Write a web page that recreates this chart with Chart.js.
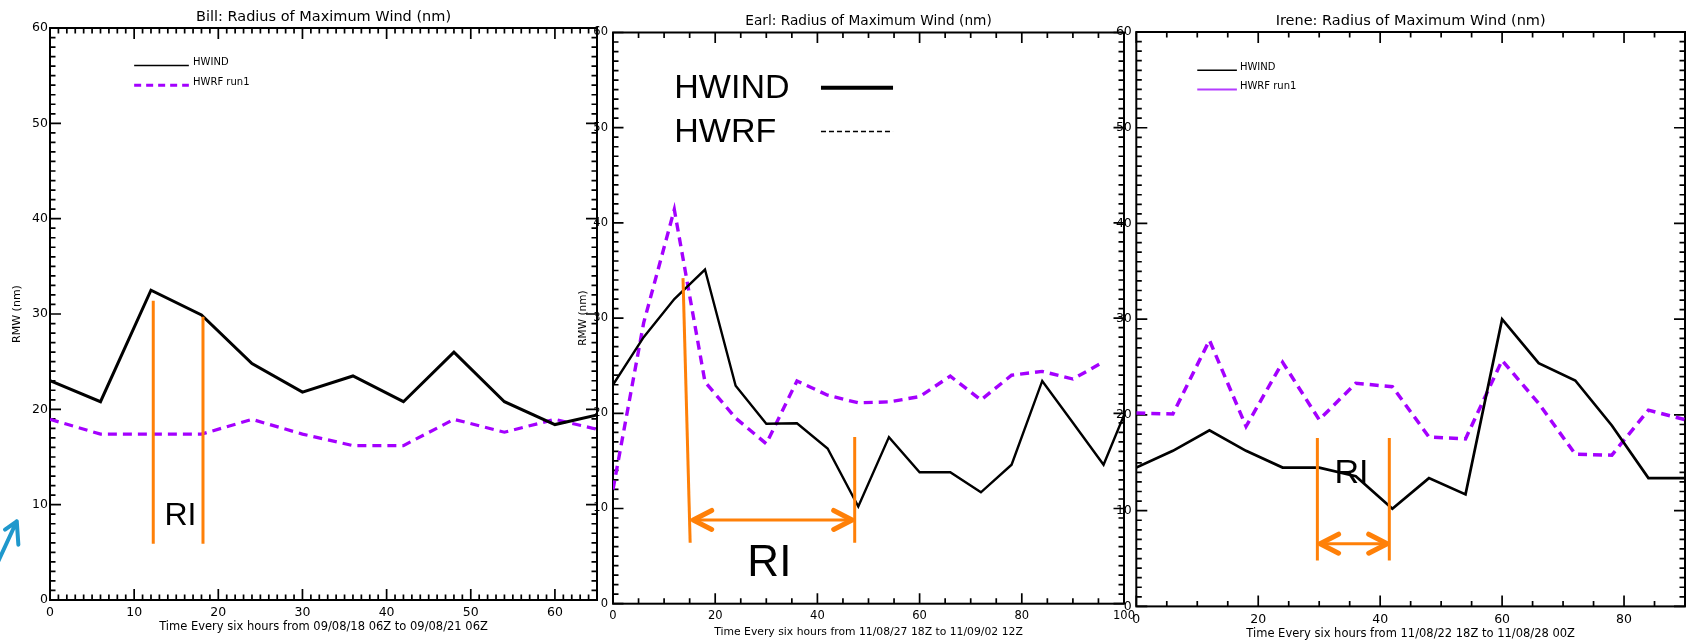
<!DOCTYPE html>
<html>
<head>
<meta charset="utf-8">
<script src="https://cdn.jsdelivr.net/npm/chart.js@4.4.1/dist/chart.umd.min.js"></script>
<style>
  html, body { margin: 0; padding: 0; background: #fff; }
  #wrap { position: relative; width: 1688px; height: 643px; overflow: hidden; background: #fff; }
  #wrap canvas { position: absolute; left: 0; top: 0; }
</style>
</head>
<body>
<div id="wrap">
  <canvas id="bill" width="1688" height="643"></canvas>
  <canvas id="earl" width="1688" height="643"></canvas>
  <canvas id="irene" width="1688" height="643"></canvas>
</div>
<script>
// ---- data (RMW in nm, every six hours) ----
const billHours = [0, 6, 12, 18, 24, 30, 36, 42, 48, 54, 60, 66];
const billHwind = [23.0, 20.8, 32.5, 29.9, 24.8, 21.8, 23.5, 20.8, 26.0, 20.8, 18.4, 19.6];
const billHwrf  = [18.95, 17.4, 17.4, 17.4, 18.95, 17.4, 16.2, 16.2, 18.95, 17.6, 18.95, 17.7];

const earlHours = [0, 6, 12, 18, 24, 30, 36, 42, 48, 54, 60, 66, 72, 78, 84, 90, 96, 102];
const earlHwind = [23.0, 28.0, 32.0, 35.1, 22.9, 18.9, 18.95, 16.3, 10.2, 17.5, 13.8, 13.8, 11.7, 14.6, 23.4, 19.0, 14.6, 22.4];
const earlHwrf  = [12.0, 29.5, 41.4, 23.3, 19.5, 16.8, 23.4, 21.9, 21.1, 21.2, 21.75, 23.9, 21.4, 24.0, 24.4, 23.6, 25.4];

const ireneHours = [0, 6, 12, 18, 24, 30, 36, 42, 48, 54, 60, 66, 72, 78, 84, 90];
const ireneHwind = [14.5, 16.25, 18.4, 16.25, 14.5, 14.5, 13.6, 10.2, 13.4, 11.7, 30.0, 25.4, 23.6, 18.9, 13.4, 13.4];
const ireneHwrf  = [20.2, 20.1, 27.8, 18.8, 25.5, 19.5, 23.3, 22.95, 17.7, 17.5, 25.7, 21.2, 15.9, 15.8, 20.5, 19.5];

// tick labels
const yTickLabels = [0, 10, 20, 30, 40, 50, 60];
const billXTicks  = [0, 10, 20, 30, 40, 50, 60];
const earlXTicks  = [0, 20, 40, 60, 80, 100];
const ireneXTicks = [0, 20, 40, 60, 80];

// RI markers [x0, y0, x1, y1] and arrows [xFrom, xTo, y]
const billRiLines  = [[12.27, 31.4, 12.27, 5.9], [18.18, 29.7, 18.18, 5.9]];
const earlRiLines  = [[13.7, 34.2, 15.1, 6.4], [47.3, 17.5, 47.3, 6.4]];
const earlRiArrow  = [15.4, 47.1, 8.8];
const ireneRiLines = [[29.7, 17.6, 29.7, 4.8], [41.5, 17.6, 41.5, 4.8]];
const ireneRiArrow = [29.9, 41.4, 6.55];
const billRiText   = [15.5, 8.9];
const earlRiText   = [30.6, 4.33];
const ireneRiText  = [35.3, 14.04];

const BLACK = '#000';
const PURPLE = '#a400ff';
const ORANGE = '#ff8008';
const Y_BOX = 40;   // width reserved for the y tick labels
const X_BOX = 35;   // height reserved for the x tick labels

function pts(xs, ys) {
  return ys.map((v, i) => ({ x: xs[i], y: v }));
}

function segment(s, width) {
  return {
    data: [{ x: s[0], y: s[1] }, { x: s[2], y: s[3] }],
    borderColor: ORANGE, borderWidth: width, pointRadius: 0, borderCapStyle: 'butt',
  };
}

const panelPlugin = {
  id: 'panel',
  beforeDatasetsDraw(chart, args, o) {
    const { ctx, chartArea: a, scales: { x, y } } = chart;
    ctx.save();
    ctx.strokeStyle = BLACK;
    ctx.lineWidth = 2;
    ctx.strokeRect(a.left, a.top, a.right - a.left, a.bottom - a.top);
    ctx.lineWidth = 1.7;
    ctx.beginPath();
    for (let v = x.min; v <= x.max + 1e-6; v += o.xMinor) {
      const p = x.getPixelForValue(v);
      const len = Math.abs(v / o.xMajor - Math.round(v / o.xMajor)) < 1e-6 ? o.major : o.minor;
      ctx.moveTo(p, a.bottom); ctx.lineTo(p, a.bottom - len);
      ctx.moveTo(p, a.top); ctx.lineTo(p, a.top + len);
    }
    for (let v = y.min; v <= y.max + 1e-6; v += 1) {
      const p = y.getPixelForValue(v);
      const len = v % 10 === 0 ? o.major : o.minor;
      ctx.moveTo(a.left, p); ctx.lineTo(a.left + len, p);
      ctx.moveTo(a.right, p); ctx.lineTo(a.right - len, p);
    }
    ctx.stroke();
    ctx.restore();
  },
  afterDatasetsDraw(chart, args, o) {
    const { ctx, chartArea: a, scales: { x, y } } = chart;
    ctx.save();
    // arrowheads
    if (o.arrow) {
      const x0 = o.arrow[0], x1 = o.arrow[1], yv = o.arrow[2];
      const py = y.getPixelForValue(yv);
      ctx.strokeStyle = ORANGE;
      ctx.lineWidth = 5;
      ctx.lineCap = 'round';
      ctx.lineJoin = 'round';
      [[x.getPixelForValue(x0), 1], [x.getPixelForValue(x1), -1]].forEach(([px, dir]) => {
        ctx.beginPath();
        ctx.moveTo(px + dir * 20, py - 9.5);
        ctx.lineTo(px + dir * 1.5, py);
        ctx.lineTo(px + dir * 20, py + 9.5);
        ctx.stroke();
      });
    }
    // RI label
    ctx.fillStyle = BLACK;
    ctx.font = `${o.riSize}px "Liberation Sans"`;
    ctx.textAlign = 'center';
    ctx.textBaseline = 'middle';
    ctx.fillText('RI', x.getPixelForValue(o.riText[0]), y.getPixelForValue(o.riText[1]) + o.riSize * 0.04);

    // legend
    const lg = o.legend;
    lg.rows.forEach(r => {
      const ly = y.getPixelForValue(r.y);
      ctx.beginPath();
      ctx.strokeStyle = r.color;
      ctx.lineWidth = r.width;
      ctx.lineCap = 'butt';
      ctx.setLineDash(r.dash || []);
      ctx.moveTo(x.getPixelForValue(lg.x0), ly);
      ctx.lineTo(x.getPixelForValue(lg.x1), ly);
      ctx.stroke();
      ctx.setLineDash([]);
      ctx.font = lg.font;
      ctx.textAlign = 'left';
      ctx.textBaseline = 'alphabetic';
      ctx.fillStyle = BLACK;
      ctx.fillText(r.label, x.getPixelForValue(lg.tx), y.getPixelForValue(r.ty));
    });

    // titles
    const cx = (a.left + a.right) / 2;
    ctx.textAlign = 'center';
    ctx.textBaseline = 'middle';
    ctx.font = `${o.titleSize}px "DejaVu Sans"`;
    ctx.fillText(o.title, cx, a.top - 11);
    ctx.font = `${o.xTitleSize}px "DejaVu Sans"`;
    ctx.fillText(o.xTitle, cx, a.bottom + o.xTitleGap);
    if (o.yTitleGap) {
      ctx.save();
      ctx.translate(a.left - o.yTitleGap, (a.top + a.bottom) / 2);
      ctx.rotate(-Math.PI / 2);
      ctx.font = `${o.yTitleSize}px "DejaVu Sans"`;
      ctx.fillText('RMW (nm)', 0, 0);
      ctx.restore();
    }
    // stray slide arrow
    if (o.blueArrow) {
      const b = o.blueArrow;
      const P = q => [x.getPixelForValue(q[0]), y.getPixelForValue(q[1])];
      ctx.strokeStyle = '#1f98cc';
      ctx.lineWidth = 4;
      ctx.lineCap = 'round';
      ctx.lineJoin = 'round';
      ctx.beginPath();
      ctx.moveTo(...P(b.tail)); ctx.lineTo(...P(b.tip));
      ctx.moveTo(...P(b.arms[0])); ctx.lineTo(...P(b.tip)); ctx.lineTo(...P(b.arms[1]));
      ctx.stroke();
    }
    ctx.restore();
  },
};

function makeChart(id, p) {
  const ctx = document.getElementById(id);
  const datasets = [];
  p.riLines.forEach(s => datasets.push(segment(s, 3)));
  if (p.arrow) datasets.push(segment([p.arrow[0], p.arrow[2], p.arrow[1], p.arrow[2]], 3));
  datasets.push({
    label: 'HWIND', data: pts(p.hours, p.hwind),
    borderColor: BLACK, borderWidth: p.blackWidth, pointRadius: 0, tension: 0,
  });
  datasets.push({
    label: 'HWRF', data: pts(p.hours, p.hwrf),
    borderColor: PURPLE, borderWidth: p.purpleWidth, borderDash: [9, 6], pointRadius: 0, tension: 0,
  });

  const b = p.box;  // plot box [left, right, top, bottom] in page pixels
  return new Chart(ctx, {
    type: 'line',
    data: { datasets },
    plugins: [panelPlugin],
    options: {
      responsive: false,
      animation: false,
      devicePixelRatio: 1,
      events: [],
      layout: { padding: { left: b[0] - Y_BOX, right: 1688 - b[1], top: b[2], bottom: 643 - b[3] - X_BOX } },
      plugins: {
        legend: { display: false },
        tooltip: { enabled: false },
        panel: Object.assign({ arrow: p.arrow }, p.panel),
      },
      scales: {
        x: {
          type: 'linear', min: 0, max: p.xMax,
          afterFit: s => { s.height = X_BOX; },
          afterBuildTicks: s => { s.ticks = p.xTicks.map(v => ({ value: v })); },
          grid: { display: false, drawTicks: false },
          border: { display: false },
          ticks: { color: BLACK, padding: p.xPad, maxRotation: 0, autoSkip: false, font: { family: 'DejaVu Sans', size: p.tickSize } },
        },
        y: {
          type: 'linear', min: 0, max: 60,
          afterFit: s => { s.width = Y_BOX; },
          afterBuildTicks: s => { s.ticks = yTickLabels.map(v => ({ value: v })); },
          grid: { display: false, drawTicks: false },
          border: { display: false },
          ticks: { color: BLACK, padding: p.yPad, font: { family: 'DejaVu Sans', size: p.tickSize } },
        },
      },
    },
  });
}

makeChart('bill', {
  hours: billHours, hwind: billHwind, hwrf: billHwrf,
  xMax: 65, xTicks: billXTicks, riLines: billRiLines, arrow: null,
  blackWidth: 3, purpleWidth: 3.2, tickSize: 12.5, xPad: 5, yPad: 2,
  box: [50, 597, 28, 600],
  panel: {
    xMinor: 1, xMajor: 10, major: 11, minor: 5.5,
    title: 'Bill: Radius of Maximum Wind (nm)', titleSize: 14.5,
    xTitle: 'Time Every six hours from 09/08/18 06Z to 09/08/21 06Z', xTitleSize: 11.5, xTitleGap: 27,
    yTitleGap: 33, yTitleSize: 11,
    riText: billRiText, riSize: 32,
    legend: {
      x0: 10, x1: 16.5, tx: 17, font: '10px "DejaVu Sans"',
      rows: [
        { y: 56.07, ty: 56.07, label: 'HWIND', color: BLACK, width: 1.6 },
        { y: 54.0, ty: 54.0, label: 'HWRF run1', color: PURPLE, width: 3, dash: [7, 5] },
      ],
    },
    blueArrow: { tip: [-3.95, 8.26], tail: [-7.5, 1.5], arms: [[-5.34, 7.38], [-3.76, 5.8]] },
  },
});

makeChart('earl', {
  hours: earlHours, hwind: earlHwind, hwrf: earlHwrf,
  xMax: 100, xTicks: earlXTicks, riLines: earlRiLines, arrow: earlRiArrow,
  blackWidth: 2.4, purpleWidth: 3.4, tickSize: 11.5, xPad: 5, yPad: 5,
  box: [613, 1124, 32.5, 603.7],
  panel: {
    xMinor: 5, xMajor: 20, major: 10.5, minor: 5.5,
    title: 'Earl: Radius of Maximum Wind (nm)', titleSize: 13.7,
    xTitle: 'Time Every six hours from 11/08/27 18Z to 11/09/02 12Z', xTitleSize: 10.8, xTitleGap: 28,
    yTitleGap: 30, yTitleSize: 10.5,
    riText: earlRiText, riSize: 44,
    legend: {
      x0: 40.7, x1: 54.8, tx: 12.0, font: '34px "Liberation Sans"',
      rows: [
        { y: 54.2, ty: 53.1, label: 'HWIND', color: BLACK, width: 4 },
        { y: 49.6, ty: 48.5, label: 'HWRF', color: BLACK, width: 1.5, dash: [5, 3] },
      ],
    },
  },
});

makeChart('irene', {
  hours: ireneHours, hwind: ireneHwind, hwrf: ireneHwrf,
  xMax: 90, xTicks: ireneXTicks, riLines: ireneRiLines, arrow: ireneRiArrow,
  blackWidth: 2.7, purpleWidth: 3.5, tickSize: 12.5, xPad: 6, yPad: 4.5,
  box: [1136.3, 1685, 32, 606.4],
  panel: {
    xMinor: 5, xMajor: 20, major: 11, minor: 5.5,
    title: 'Irene: Radius of Maximum Wind (nm)', titleSize: 14.5,
    xTitle: 'Time Every six hours from 11/08/22 18Z to 11/08/28 00Z', xTitleSize: 11.5, xTitleGap: 28,
    yTitleGap: 0,
    riText: ireneRiText, riSize: 34,
    legend: {
      x0: 10, x1: 16.5, tx: 17, font: '10px "DejaVu Sans"',
      rows: [
        { y: 56.0, ty: 56.0, label: 'HWIND', color: BLACK, width: 1.6 },
        { y: 54.0, ty: 54.0, label: 'HWRF run1', color: '#b43cff', width: 2 },
      ],
    },
  },
});
</script>
</body>
</html>
